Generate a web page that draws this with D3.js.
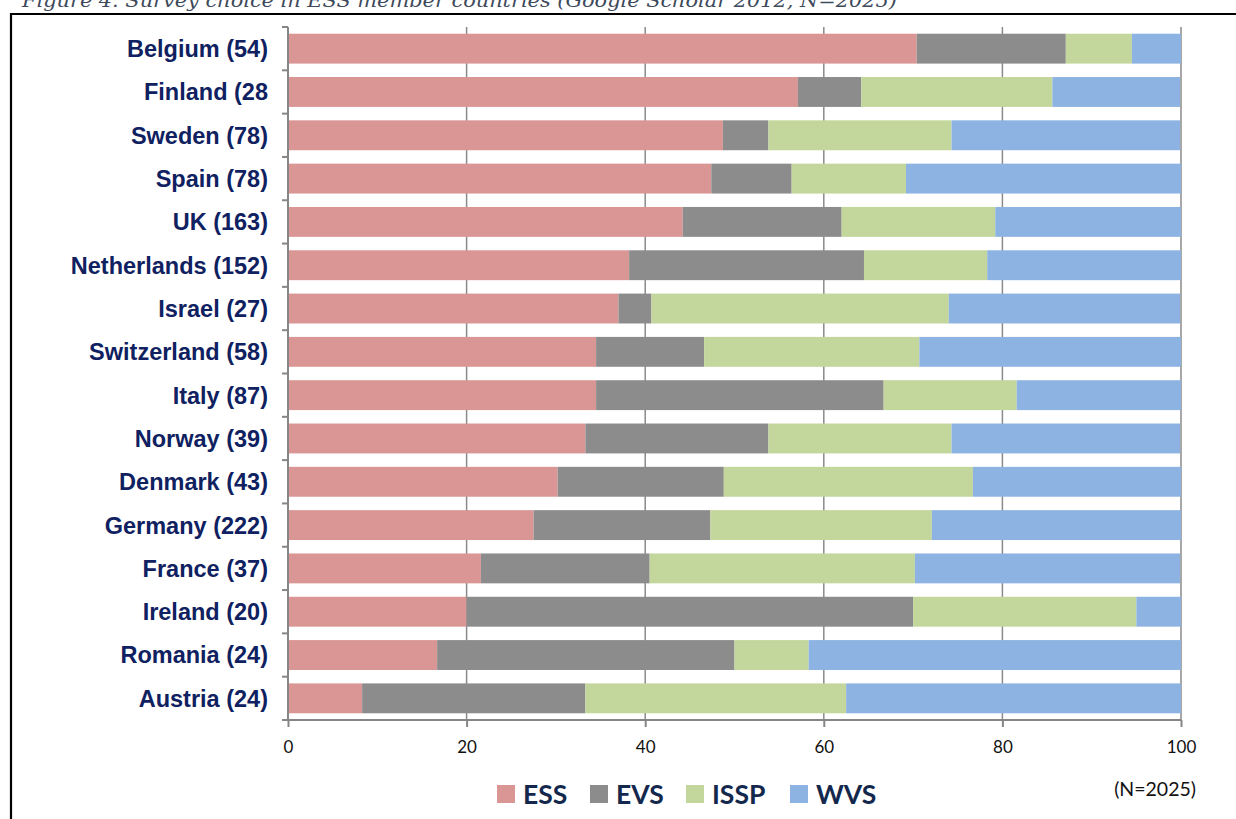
<!DOCTYPE html>
<html>
<head>
<meta charset="utf-8">
<script src="https://cdn.jsdelivr.net/npm/d3@7"></script>
<style>
  html, body { margin: 0; padding: 0; background: #fff; }
  svg { display: block; }
</style>
</head>
<body>
<svg id="chart" width="1236" height="819"></svg>
<script>
// Share of studies (%) using each survey, by ESS member country
const countries = [
  "Belgium (54)", "Finland (28", "Sweden (78)", "Spain (78)", "UK (163)",
  "Netherlands (152)", "Israel (27)", "Switzerland (58)", "Italy (87)",
  "Norway (39)", "Denmark (43)", "Germany (222)", "France (37)",
  "Ireland (20)", "Romania (24)", "Austria (24)"
];
const essValues  = [70.4, 57.1, 48.7, 47.4, 44.2, 38.2, 37.0, 34.5, 34.5, 33.3, 30.2, 27.5, 21.6, 20.0, 16.7,  8.3];
const evsValues  = [16.7,  7.1,  5.1,  9.0, 17.8, 26.3,  3.7, 12.1, 32.2, 20.5, 18.6, 19.8, 18.9, 50.0, 33.3, 25.0];
const isspValues = [ 7.4, 21.4, 20.5, 12.8, 17.2, 13.8, 33.3, 24.1, 14.9, 20.5, 27.9, 24.8, 29.7, 25.0,  8.3, 29.2];
const wvsValues  = [ 5.6, 14.3, 25.6, 30.8, 20.9, 21.7, 25.9, 29.3, 18.4, 25.6, 23.3, 27.9, 29.7,  5.0, 41.7, 37.5];
const seriesNames = ["ESS", "EVS", "ISSP", "WVS"];
const seriesColors = ["#d99694", "#8c8c8c", "#c3d69b", "#8db3e2"];
const xTicks = [0, 20, 40, 60, 80, 100];
const captionText = "Figure 4. Survey choice in ESS member countries (Google Scholar 2012, N=2025)";
const sampleNote = "(N=2025)";

const rows = countries.map((c, i) => ({
  country: c, ESS: essValues[i], EVS: evsValues[i], ISSP: isspValues[i], WVS: wvsValues[i]
}));

const svg = d3.select("#chart");
const plot = { left: 288, right: 1181, top: 27, bottom: 720 };

// caption and frame
svg.append("text")
  .attr("x", 22).attr("y", 7)
  .attr("font-family", "DejaVu Serif, serif")
  .attr("font-style", "italic")
  .attr("font-size", 19)
  .attr("fill", "#3e4a5b")
  .attr("textLength", 875)
  .attr("lengthAdjust", "spacingAndGlyphs")
  .text(captionText);

svg.append("path")
  .attr("d", "M11,819 L11,14 L1236,14")
  .attr("fill", "none")
  .attr("stroke", "#000")
  .attr("stroke-width", 2.2);

const x = d3.scaleLinear().domain([0, 100]).range([plot.left, plot.right]).clamp(true);
const y = d3.scaleBand().domain(countries).range([plot.top, plot.bottom])
  .paddingInner(0.31).paddingOuter(0.155);

// vertical grid lines (behind bars)
svg.append("g")
  .selectAll("line")
  .data(xTicks.filter(t => t > 0))
  .join("line")
  .attr("x1", d => x(d)).attr("x2", d => x(d))
  .attr("y1", plot.top).attr("y2", plot.bottom)
  .attr("stroke", "#8a8a8a")
  .attr("stroke-width", 1.5);

// stacked bars
const stack = d3.stack().keys(seriesNames);
const layers = stack(rows);
const color = d3.scaleOrdinal().domain(seriesNames).range(seriesColors);

svg.append("g")
  .selectAll("g")
  .data(layers)
  .join("g")
  .attr("fill", d => color(d.key))
  .selectAll("rect")
  .data(d => d)
  .join("rect")
  .attr("x", d => x(d[0]))
  .attr("width", d => x(d[1]) - x(d[0]))
  .attr("y", d => y(d.data.country))
  .attr("height", y.bandwidth());

// y axis: line with ticks at category boundaries
const yAxisG = svg.append("g");
yAxisG.append("line")
  .attr("x1", plot.left).attr("x2", plot.left)
  .attr("y1", plot.top).attr("y2", plot.bottom)
  .attr("stroke", "#868686").attr("stroke-width", 2);
const boundaries = d3.range(countries.length + 1).map(i => plot.top + i * (plot.bottom - plot.top) / countries.length);
yAxisG.selectAll("line.tk")
  .data(boundaries)
  .join("line")
  .attr("class", "tk")
  .attr("x1", plot.left - 6).attr("x2", plot.left)
  .attr("y1", d => d).attr("y2", d => d)
  .attr("stroke", "#868686").attr("stroke-width", 2);

yAxisG.selectAll("text")
  .data(countries)
  .join("text")
  .attr("x", 268)
  .attr("y", d => y(d) + y.bandwidth() / 2)
  .attr("dy", "0.36em")
  .attr("text-anchor", "end")
  .attr("font-family", "Liberation Sans, Arial, sans-serif")
  .attr("font-weight", "bold")
  .attr("font-size", 23.5)
  .attr("fill", "#0f2160")
  .text(d => d);

// x axis
const xAxis = d3.axisBottom(x).tickValues(xTicks).tickSize(7).tickSizeOuter(0).tickPadding(14);
const xAxisG = svg.append("g")
  .attr("transform", `translate(0,${plot.bottom})`)
  .call(xAxis);
xAxisG.select(".domain")
  .attr("d", `M${plot.left - 6},0H${plot.right}`)
  .attr("stroke", "#868686").attr("stroke-width", 2);
xAxisG.selectAll(".tick line").attr("stroke", "#868686").attr("stroke-width", 2);
xAxisG.selectAll(".tick text")
  .attr("font-family", "Lato, sans-serif")
  .attr("font-size", 17)
  .attr("fill", "#111");

// legend
const legendX = [497, 590, 686, 790];
const legend = svg.append("g");
const items = legend.selectAll("g")
  .data(seriesNames)
  .join("g")
  .attr("transform", (d, i) => `translate(${legendX[i]},785)`);
items.append("rect")
  .attr("width", 18).attr("height", 18)
  .attr("fill", d => color(d));
items.append("text")
  .attr("x", 26).attr("y", 9)
  .attr("dy", "0.36em")
  .attr("font-family", "Lato, sans-serif")
  .attr("font-weight", "bold")
  .attr("font-size", 26.5)
  .attr("fill", "#13284c")
  .text(d => d);

svg.append("text")
  .attr("x", 1196).attr("y", 789)
  .attr("dy", "0.36em")
  .attr("text-anchor", "end")
  .attr("font-family", "Lato, sans-serif")
  .attr("font-size", 19.5)
  .attr("fill", "#111")
  .text(sampleNote);
</script>
</body>
</html>
